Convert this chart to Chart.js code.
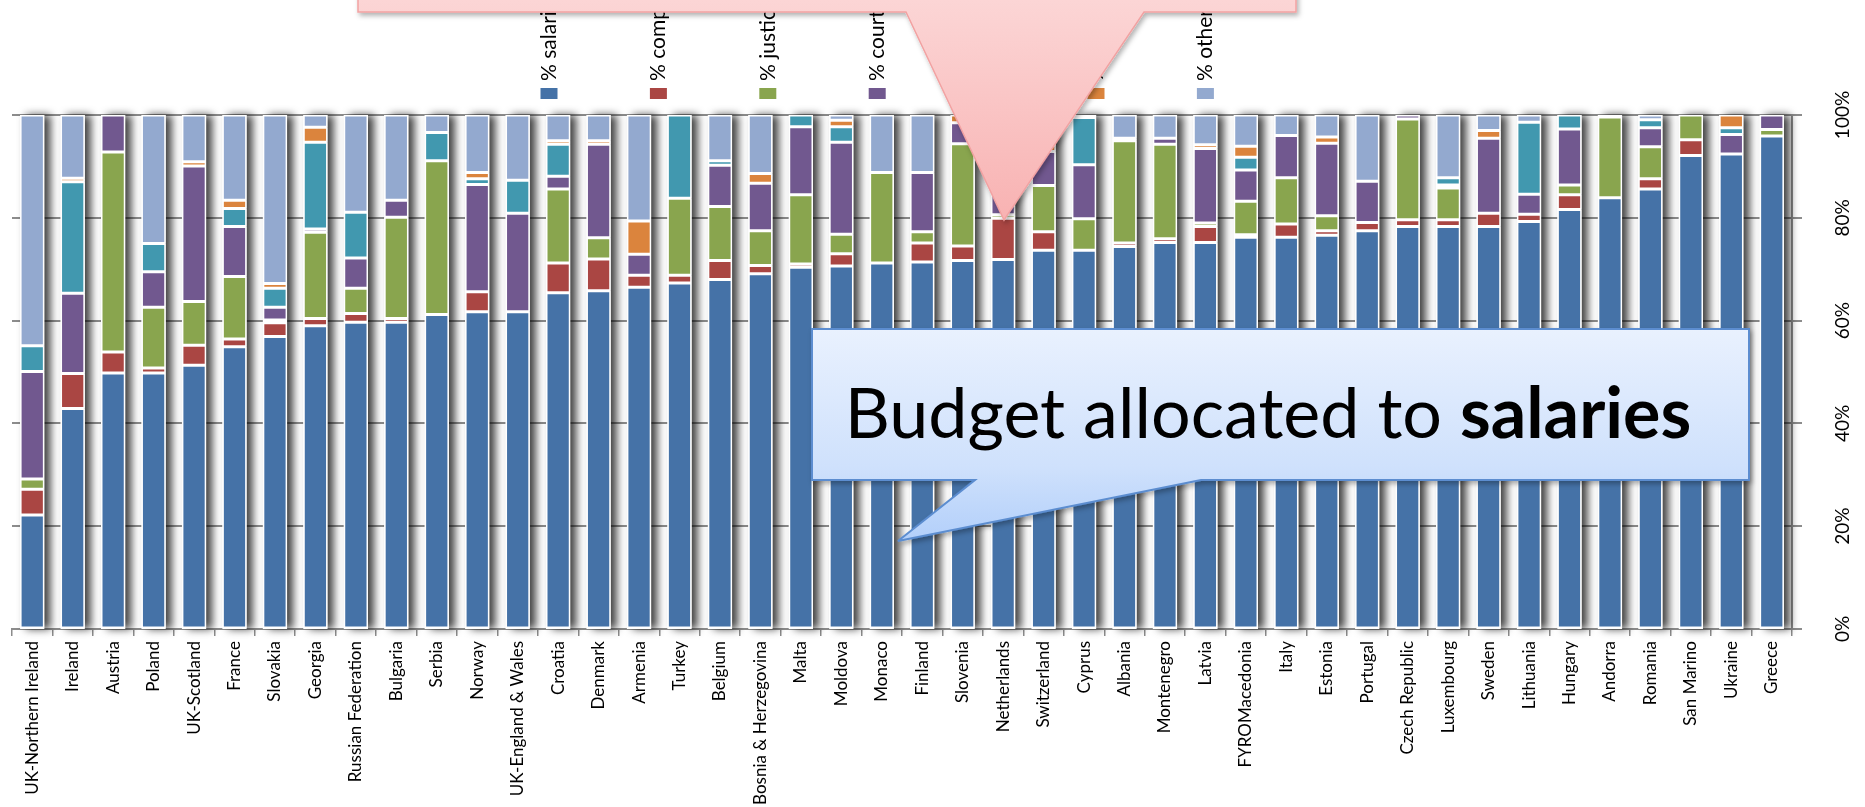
<!DOCTYPE html>
<html>
<head>
<meta charset="utf-8">
<script src="https://cdn.jsdelivr.net/npm/chart.js@4"></script>
<style>
  html, body { margin: 0; padding: 0; background: #fff; }
  #wrap { position: relative; width: 1865px; height: 807px; overflow: hidden; }
  #chart { position: absolute; left: 0; top: 0; }
  #notes { position: absolute; left: 0; top: 0; }
</style>
</head>
<body>
<div id="wrap">
  <canvas id="chart" width="1865" height="807"></canvas>
  <svg id="notes" width="1865" height="807">
    <defs>
      <linearGradient id="pinkFill" x1="0" y1="0" x2="0" y2="1">
        <stop offset="0" stop-color="#fcd8d8"/>
        <stop offset="0.2" stop-color="#fbd1d1"/>
        <stop offset="1" stop-color="#f8b2b2"/>
      </linearGradient>
      <linearGradient id="blueFill" x1="0" y1="0" x2="0" y2="1">
        <stop offset="0" stop-color="#e9f1fe"/>
        <stop offset="0.65" stop-color="#cfe1fc"/>
        <stop offset="1" stop-color="#b2cffa"/>
      </linearGradient>
      <filter id="drop" x="-10%" y="-10%" width="120%" height="130%">
        <feDropShadow dx="2" dy="3" stdDeviation="2.5" flood-color="#000" flood-opacity="0.3"/>
      </filter>
    </defs>
    <path d="M358,-20 L1296,-20 L1296,12 L1144,12 L1004,220 L906,12 L358,12 Z"
          fill="url(#pinkFill)" stroke="#f2a2a2" stroke-width="1.5" filter="url(#drop)"/>
    <path d="M812,329 L1749,329 L1749,480 L1201,480 L898,541 L975,480 L812,480 Z"
          fill="url(#blueFill)" stroke="#5b8dd0" stroke-width="2" filter="url(#drop)"/>
    <text x="1268" y="438" font-family="Lato" font-size="70" text-anchor="middle" fill="#000">Budget allocated to <tspan font-weight="bold">salaries</tspan></text>
  </svg>
</div>
<script>
// data (share of court budget, %)
const countries = [
  "UK-Northern Ireland", "Ireland", "Austria", "Poland", "UK-Scotland", "France",
  "Slovakia", "Georgia", "Russian Federation", "Bulgaria", "Serbia", "Norway",
  "UK-England & Wales", "Croatia", "Denmark", "Armenia", "Turkey", "Belgium",
  "Bosnia & Herzegovina", "Malta", "Moldova", "Monaco", "Finland", "Slovenia",
  "Netherlands", "Switzerland", "Cyprus", "Albania", "Montenegro", "Latvia",
  "FYROMacedonia", "Italy", "Estonia", "Portugal", "Czech Republic", "Luxembourg",
  "Sweden", "Lithuania", "Hungary", "Andorra", "Romania", "San Marino", "Ukraine", "Greece"
];

const salaries = [22.2, 42.9, 49.8, 49.8, 51.3, 54.9, 56.9, 59.0, 59.7, 59.7, 61.2, 61.7, 61.7, 65.4, 65.8, 66.5, 67.3, 68.0, 69.1, 70.4, 70.6, 71.2, 71.4, 71.7, 71.9, 73.7, 73.7, 74.4, 75.2, 75.2, 76.2, 76.2, 76.6, 77.5, 78.3, 78.3, 78.3, 79.3, 81.6, 83.9, 85.6, 92.1, 92.4, 95.9];
const computerisation = [5.0, 6.8, 4.1, 1.0, 3.9, 1.5, 2.7, 1.4, 1.7, 0.7, 0, 3.9, 0, 5.8, 6.2, 2.3, 1.5, 3.7, 1.6, 0.6, 2.4, 0, 3.7, 2.8, 8.0, 3.6, 0, 0.7, 0.7, 3.1, 0.5, 2.6, 0.9, 1.6, 1.3, 1.3, 2.6, 1.4, 2.9, 0, 2.0, 3.1, 0, 0];
const justiceExpenses = [2.0, 0, 38.9, 11.8, 8.5, 12.2, 0.5, 16.8, 4.9, 19.7, 29.9, 0, 0, 14.4, 4.1, 0, 15.0, 10.5, 6.8, 13.5, 3.8, 17.6, 2.2, 19.9, 0.7, 9.0, 6.1, 19.9, 18.4, 0.7, 6.5, 9.0, 2.9, 0, 19.6, 6.2, 0, 0, 1.9, 15.7, 6.2, 4.8, 0, 1.3];
const courtBuildings = [20.9, 15.6, 7.2, 6.9, 26.4, 9.7, 2.5, 0.6, 5.9, 3.3, 0, 20.9, 19.2, 2.5, 18.2, 4.1, 0, 8.0, 9.2, 13.2, 17.9, 0, 11.5, 4.1, 12.4, 6.6, 10.5, 0.5, 1.2, 14.5, 6.1, 8.2, 14.1, 8.0, 0.8, 0.6, 14.6, 3.9, 10.9, 0, 3.7, 0, 3.8, 2.8];
const newBuildings = [5.0, 21.7, 0, 5.5, 0, 3.5, 3.7, 16.9, 8.9, 0, 5.5, 1.1, 6.4, 6.2, 0, 0, 16.2, 0.9, 0, 2.3, 3.0, 0, 0, 0, 0, 0, 9.2, 0, 0, 0, 2.5, 0, 0, 0, 0, 1.4, 0, 14.0, 2.7, 0, 1.6, 0, 1.3, 0];
const training = [0, 0.7, 0, 0, 0.8, 1.6, 0.9, 2.9, 0, 0, 0, 1.2, 0, 0.7, 0.7, 6.5, 0, 0, 1.9, 0, 1.3, 0, 0, 1.5, 1.0, 1.5, 0.5, 0, 0, 0.7, 2.1, 0, 1.2, 0, 0, 0, 1.5, 0, 0, 0.4, 0, 0, 2.5, 0];
const other = [44.9, 12.3, 0, 25.0, 9.1, 16.6, 32.8, 2.4, 18.9, 16.6, 3.4, 11.2, 12.7, 5.0, 5.0, 20.6, 0, 8.9, 11.4, 0, 1.0, 11.2, 11.2, 0, 6.0, 5.6, 0, 4.5, 4.5, 5.8, 6.1, 4.0, 4.3, 12.9, 0, 12.2, 3.0, 1.4, 0, 0, 0.9, 0, 0, 0];

const seriesLabels = ["% salaries", "% computerisation", "% justice expenses", "% court buildings", "% investment in new buildings", "% training", "% other"];
const seriesData = [salaries, computerisation, justiceExpenses, courtBuildings, newBuildings, training, other];
const seriesColors = ["#4572A7", "#AA4643", "#89A54E", "#71588F", "#4198AF", "#DB843D", "#93A9CF"];
const yTickLabels = ["0%", "20%", "40%", "60%", "80%", "100%"];

const GRID = "#8c8c8c";
Chart.defaults.font.family = "Lato, 'Open Sans', sans-serif";
Chart.defaults.color = "#000";

// grey shadow to the right of every column (like the Excel original)
const columnShadow = {
  id: "columnShadow",
  beforeDatasetsDraw(chart) {
    const ctx = chart.ctx;
    const y = chart.scales.y;
    const top = y.getPixelForValue(100);
    const bottom = y.getPixelForValue(0);
    ctx.save();
    ctx.shadowColor = "rgba(0,0,0,0.75)";
    ctx.shadowBlur = 9;
    ctx.shadowOffsetX = 6;
    ctx.fillStyle = "#fff";
    chart.getDatasetMeta(0).data.forEach((bar) => {
      ctx.fillRect(bar.x - bar.width / 2, top, bar.width, bottom - top);
    });
    ctx.restore();
  },
};

// vertical legend at the top and rotated % labels on the right axis
const sideText = {
  id: "sideText",
  afterDraw(chart) {
    const ctx = chart.ctx;
    ctx.save();
    chart.data.datasets.forEach((ds, i) => {
      const cx = 549 + 109.4 * i;
      ctx.fillStyle = ds.backgroundColor;
      ctx.fillRect(cx - 8.5, 88, 17, 11);
      ctx.save();
      ctx.translate(cx, 81);
      ctx.rotate(-Math.PI / 2);
      ctx.fillStyle = "#000";
      ctx.font = "21px Lato";
      ctx.textAlign = "left";
      ctx.textBaseline = "middle";
      ctx.fillText(ds.label, 0, 0);
      ctx.restore();
    });
    const y = chart.scales.y;
    y.ticks.forEach((t, i) => {
      ctx.save();
      ctx.translate(1843, y.getPixelForValue(t.value));
      ctx.rotate(-Math.PI / 2);
      ctx.fillStyle = "#000";
      ctx.font = "19px Lato";
      ctx.textAlign = "center";
      ctx.textBaseline = "middle";
      ctx.fillText(yTickLabels[i], 0, 0);
      ctx.restore();
    });
    ctx.restore();
  },
};

const ctxBudget = document.getElementById("chart").getContext("2d");
let budgetChart = new Chart(ctxBudget, {
  type: "bar",
  data: {
    labels: countries,
    datasets: seriesData.map((values, i) => ({
      label: seriesLabels[i],
      data: values,
      backgroundColor: seriesColors[i],
      borderColor: "#ffffff",
      borderWidth: 1.5,
      borderSkipped: false,
      categoryPercentage: 1,
      barPercentage: 0.6,
    })),
  },
  options: {
    responsive: false,
    animation: false,
    devicePixelRatio: 1,
    layout: { padding: { left: 12, top: 115, right: 0, bottom: 0 } },
    plugins: {
      legend: { display: false },
      tooltip: { enabled: false },
    },
    scales: {
      x: {
        stacked: true,
        grid: {
          drawOnChartArea: false,
          drawTicks: true,
          tickLength: 7,
          color: GRID,
          lineWidth: 1.5,
        },
        border: { color: GRID, width: 2 },
        ticks: {
          autoSkip: false,
          minRotation: 90,
          maxRotation: 90,
          padding: 5,
          font: { size: 17 },
          color: "#000",
        },
        afterFit(scale) {
          scale.height = 178;
        },
      },
      y: {
        stacked: true,
        position: "right",
        min: 0,
        max: 100,
        ticks: { stepSize: 20, display: false },
        grid: { color: GRID, lineWidth: 2, drawTicks: true, tickLength: 10 },
        border: { color: GRID, width: 2 },
        afterFit(scale) {
          scale.width = 73;
        },
      },
    },
  },
  plugins: [columnShadow, sideText],
});
</script>
</body>
</html>
